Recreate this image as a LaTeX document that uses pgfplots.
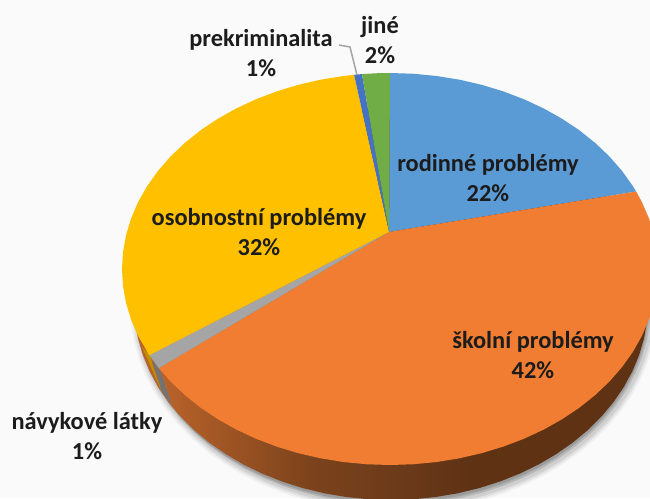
\documentclass[border=0pt]{standalone}
\usepackage{pgfplots}
\pgfplotsset{compat=1.18}
\usepackage{pgfplotstable}
\usepackage{fontspec}
\setmainfont{Carlito}
\definecolor{cblue}{HTML}{5B9BD5}
\definecolor{corange}{HTML}{F07D31}
\definecolor{cgray}{HTML}{A5A5A5}
\definecolor{cyellow}{HTML}{FFC000}
\definecolor{csliver}{HTML}{4472C4}
\definecolor{cgreen}{HTML}{70AD47}
\definecolor{ctext}{HTML}{1C1C1C}
\definecolor{wa}{HTML}{B8622A}
\definecolor{wb}{HTML}{7C431C}
\definecolor{wc}{HTML}{6B3A1A}
\definecolor{wd}{HTML}{5E3213}
\pgfdeclarehorizontalshading{wall}{100bp}{color(0bp)=(wa); color(28bp)=(wa); color(42bp)=(wb); color(51bp)=(wc); color(58bp)=(wd); color(100bp)=(wd)}
\pgfplotstableread{
t r
91 0.189
90 1
85 1
80 1
75 1
70 1
65 1
60 1
55 1
50 1
45 1
40 1
35 1
30 1
25 1
23.3 1
}\tblue
\pgfplotstableread{
t r
91 0.189
23.3 1
20 1
15 1
10 1
5 1
0 1
-5 1
-10 1
-15 1
-20 1
-25 1
-30 1
-35 1
-40 1
-45 1
-50 1
-55 1
-60 1
-65 1
-70 1
-75 1
-80 1
-85 1
-90 1
-95 1
-100 1
-105 1
-110 1
-115 1
-120 1
-125 1
-130 1
-135 1
-140 1
-145 1
-149.6 1
}\torange
\pgfplotstableread{
t r
91 0.189
210.4 1
206.1 1
}\tgray
\pgfplotstableread{
t r
91 0.189
206.1 1
200 1
195 1
190 1
185 1
180 1
175 1
170 1
165 1
160 1
155 1
150 1
145 1
140 1
135 1
130 1
125 1
120 1
115 1
110 1
105 1
100 1
97.7 1
}\tyellow
\pgfplotstableread{
t r
91 0.189
97.7 1
96 1
}\tsliver
\pgfplotstableread{
t r
91 0.189
96 1
93 1
90 1
}\tgreen
\pgfplotstableread{
t r
0 1
5 1
10 1
15 1
20 1
25 1
30 1
35 1
40 1
45 1
50 1
55 1
60 1
65 1
70 1
75 1
80 1
85 1
90 1
95 1
100 1
105 1
110 1
115 1
120 1
125 1
130 1
135 1
140 1
145 1
150 1
155 1
160 1
165 1
170 1
175 1
180 1
185 1
190 1
195 1
200 1
205 1
210 1
215 1
220 1
225 1
230 1
235 1
240 1
245 1
250 1
255 1
260 1
265 1
270 1
275 1
280 1
285 1
290 1
295 1
300 1
305 1
310 1
315 1
320 1
325 1
330 1
335 1
340 1
345 1
350 1
355 1
360 1
}\tring
\newcommand{\wedgeplot}[2]{\addplot[fill=#1,draw=none] table[x expr={390+268*\thisrow{r}*cos(\thisrow{t})},y expr={269-196*\thisrow{r}*sin(\thisrow{t})}] {#2} -- cycle;}
\newcommand{\ringplot}[5]{\addplot[#5,draw=none] table[x expr={#1+#3*\thisrow{r}*cos(\thisrow{t})},y expr={#2-#4*\thisrow{r}*sin(\thisrow{t})}] {\tring} -- cycle;}
\tikzset{lab/.style={font=\fontsize{24.4}{30}\selectfont\bfseries,text=ctext,align=center,inner sep=0pt}}
\begin{document}
\begin{tikzpicture}
\begin{axis}[
  scale only axis,width=650pt,height=498pt,
  xmin=0,xmax=650,ymin=0,ymax=498,y dir=reverse,
  hide axis,clip=true,
]
\addplot[fill=white!98!black,draw=none] coordinates {(0,0) (650,0) (650,498) (0,498)} -- cycle;
% soft shadow
\ringplot{394}{306}{264}{206}{fill=black,fill opacity=.04}
\ringplot{394}{306}{262}{204}{fill=black,fill opacity=.06}
\ringplot{394}{306}{260}{202}{fill=black,fill opacity=.08}
\ringplot{393}{305}{258}{200}{fill=black,fill opacity=.12}
\ringplot{392}{305}{257}{198}{fill=black,fill opacity=.14}
% wall
\ringplot{391}{304}{257}{196}{shade,shading=wall}
\addplot[fill=cyellow!75!black,draw=none] coordinates {(142,347) (150,355) (152,363) (162,392)} -- cycle;
\addplot[fill=cgray!70!black,draw=none] coordinates {(152,360) (160,370) (172,405) (162,392)} -- cycle;
% top
\wedgeplot{cblue}{\tblue}
\wedgeplot{corange}{\torange}
\wedgeplot{cgray}{\tgray}
\wedgeplot{cyellow}{\tyellow}
\wedgeplot{csliver}{\tsliver}
\wedgeplot{cgreen}{\tgreen}
% leader
\addplot[cgray,line width=1.5pt] coordinates {(339,45) (350,47) (357,75)};
\node[lab] at (axis cs:380,40) {jiné\\2\%};
\node[lab] at (axis cs:261,53) {prekriminalita\\1\%};
\node[lab] at (axis cs:488,178) {rodinné problémy\\22\%};
\node[lab] at (axis cs:259,232) {osobnostní problémy\\32\%};
\node[lab] at (axis cs:533,355) {školní problémy\\42\%};
\node[lab] at (axis cs:87,436) {návykové látky\\1\%};
\end{axis}
\end{tikzpicture}
\end{document}
